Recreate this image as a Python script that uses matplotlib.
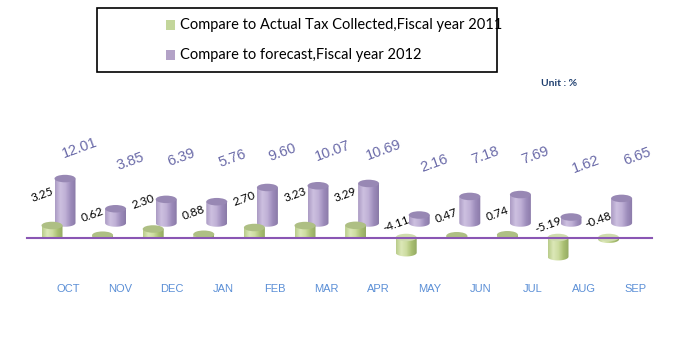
import matplotlib
matplotlib.use("Agg")
import matplotlib.pyplot as plt
import numpy as np
from matplotlib.patches import Ellipse, Rectangle, PathPatch
from matplotlib.path import Path
from matplotlib.colors import LinearSegmentedColormap

plt.rcParams['font.family'] = ['Lato', 'DejaVu Sans']

# data
months = ['OCT', 'NOV', 'DEC', 'JAN', 'FEB', 'MAR', 'APR', 'MAY', 'JUN', 'JUL', 'AUG', 'SEP']
vs_actual_2011 = [3.25, 0.62, 2.30, 0.88, 2.70, 3.23, 3.29, -4.11, 0.47, 0.74, -5.19, -0.48]
vs_forecast_2012 = [12.01, 3.85, 6.39, 5.76, 9.60, 10.07, 10.69, 2.16, 7.18, 7.69, 1.62, 6.65]
legend_labels = ['Compare to Actual Tax Collected,Fiscal year 2011',
                 'Compare to forecast,Fiscal year 2012']

W, H = 678, 339
fig = plt.figure(figsize=(W / 100, H / 100), dpi=100)
ax = fig.add_axes([0, 0, 1, 1])
ax.axis('off')

# pixel mapping: category spacing 50.6 px, 3.7 px per %
px_x, px_y = 50.6, 3.7
x0_px, base_px = 52, 237.5
ax.set_xlim(-x0_px / px_x, (W - x0_px) / px_x)
ax.set_ylim(-(H - base_px) / px_y, base_px / px_y)

cyl_w = 21 / px_x
ell_h = 7.5 / px_y
back_dx = 13 / px_x      # depth offset of the back series
back_dy = 14.5 / px_y

green_cmap = LinearSegmentedColormap.from_list('g', ['#b9cc8a', '#dce8b8', '#cddca0', '#a9bf72', '#94aa62'])
purple_cmap = LinearSegmentedColormap.from_list('p', ['#ab9bc4', '#cdc0e0', '#bfb0d6', '#9d8cbb', '#8a7aa8'])


def cylinder(xc, base, val, cmap, top_col, z):
    lo, hi = min(base, base + val), max(base, base + val)
    t = np.linspace(np.pi, 2 * np.pi, 40)
    verts = [(xc - cyl_w / 2, hi)]
    verts += list(zip(xc + cyl_w / 2 * np.cos(t), lo + ell_h / 2 * np.sin(t)))
    verts += [(xc + cyl_w / 2, hi), (xc - cyl_w / 2, hi)]
    path = Path(verts, closed=False)
    patch = PathPatch(path, facecolor='none', edgecolor='none', zorder=z)
    ax.add_patch(patch)
    grad = np.linspace(0, 1, 64).reshape(1, -1)
    im = ax.imshow(grad, cmap=cmap, aspect='auto', zorder=z,
                   extent=[xc - cyl_w / 2, xc + cyl_w / 2, lo - ell_h, hi + 0.01])
    im.set_clip_path(patch)
    top_y = base + val if val >= 0 else base
    ax.add_patch(Ellipse((xc, top_y), cyl_w, ell_h, facecolor=top_col,
                         edgecolor='none', zorder=z + 0.1))


x = np.arange(len(months))

# back series (purple)
for i, v in enumerate(vs_forecast_2012):
    cylinder(x[i] + back_dx, back_dy, v, purple_cmap, '#9888b4', 2)
    ax.text(x[i] + back_dx + 0.3, 19 + 0.43 * v, f'{v:.2f}', color='#6a6aa8',
            fontsize=10.5, rotation=20, ha='center', va='center', zorder=6,
            family=['Liberation Sans', 'DejaVu Sans'])

# front series (green)
for i, v in enumerate(vs_actual_2011):
    top_col = '#aebf84' if v >= 0 else '#cfdcae'
    cylinder(x[i], 0, v, green_cmap, top_col, 3)
    ly = 5 + 2 * v if v > 0 else 5 + 0.3 * v
    ax.text(x[i] - 0.2, ly, f'{v:.2f}', color='black', fontsize=8.5,
            rotation=20, ha='center', va='center', zorder=6)

# hide green bottoms below the floor for positive bars
for i, v in enumerate(vs_actual_2011):
    if v > 0:
        ax.add_patch(Rectangle((x[i] - cyl_w / 2 - 0.02, -ell_h), cyl_w + 0.04, ell_h,
                               facecolor='white', edgecolor='none', zorder=4))

# floor line
ax.plot([(27 - x0_px) / px_x, (652 - x0_px) / px_x], [0, 0], color='#8a56b4', lw=1.5, zorder=5)

# month labels
for i, m in enumerate(months):
    ax.text(i * 1.02 + 0.32, -13.8, m, color='#5b8fd6', fontsize=8,
            ha='center', va='center', family=['Liberation Sans', 'DejaVu Sans'])

# legend box
fig.patches.append(Rectangle((97 / W, 1 - 72 / H), 400 / W, 64 / H, transform=fig.transFigure,
                             facecolor='white', edgecolor='black', lw=1.2))
for k, (lab, col) in enumerate(zip(legend_labels, ['#c3d69b', '#b3a2c7'])):
    yy = 25 + k * 30
    fig.patches.append(Rectangle((166 / W, 1 - (yy + 4.5) / H), 9 / W, 9 / H,
                                 transform=fig.transFigure, facecolor=col, edgecolor='none'))
    fig.text(180 / W, 1 - yy / H, lab, fontsize=10.5, va='center', ha='left', color='black')

fig.text(559 / W, 1 - 84 / H, 'Unit : %', fontsize=7.5, fontweight='bold', color='#1f3f6f',
         ha='center', va='center')

fig.savefig('out.png', dpi=100)
